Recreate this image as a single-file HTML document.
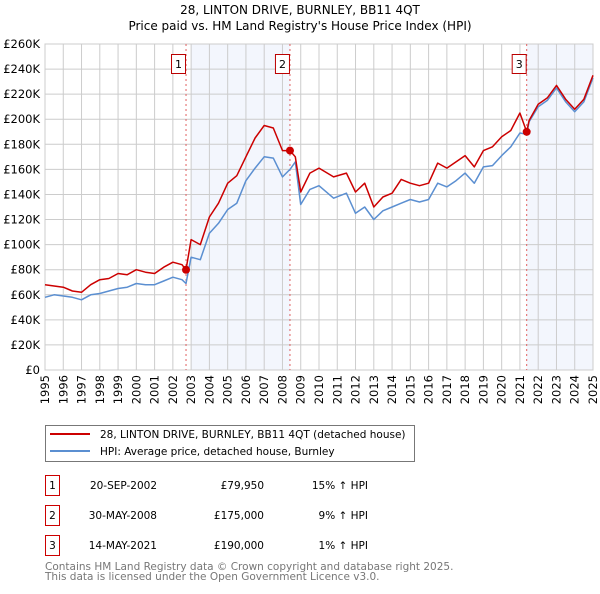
<!DOCTYPE html>
<html><head><meta charset="utf-8"><style>
body{margin:0;background:#fff;width:600px;height:590px;overflow:hidden;font-family:"DejaVu Sans","Liberation Sans",sans-serif}
svg text{font-family:"DejaVu Sans","Liberation Sans",sans-serif}
</style></head><body>
<svg width="600" height="590">
<text x="300" y="14" text-anchor="middle" font-size="12" fill="#000">28, LINTON DRIVE, BURNLEY, BB11 4QT</text>
<text x="300" y="30" text-anchor="middle" font-size="12" fill="#000">Price paid vs. HM Land Registry's House Price Index (HPI)</text>
<g id="plot"></g>
<g>
<rect x="45.5" y="425.5" width="369" height="36" fill="#fff" stroke="#777"/>
<line x1="50" y1="434" x2="90" y2="434" stroke="#cc0000" stroke-width="2"/>
<text x="100" y="438" font-size="10.5">28, LINTON DRIVE, BURNLEY, BB11 4QT (detached house)</text>
<line x1="50" y1="451" x2="90" y2="451" stroke="#5b8fd1" stroke-width="2"/>
<text x="100" y="455" font-size="10.5">HPI: Average price, detached house, Burnley</text>
</g>
<g font-size="10.5">
<rect x="45.5" y="475.5" width="14" height="20" fill="#fff" stroke="#c00"/><text x="52.5" y="489" text-anchor="middle">1</text>
<text x="157" y="489" text-anchor="end">20-SEP-2002</text><text x="264" y="489" text-anchor="end">£79,950</text><text x="368" y="489" text-anchor="end">15% ↑ HPI</text>
<rect x="45.5" y="505.5" width="14" height="20" fill="#fff" stroke="#c00"/><text x="52.5" y="519" text-anchor="middle">2</text>
<text x="157" y="519" text-anchor="end">30-MAY-2008</text><text x="264" y="519" text-anchor="end">£175,000</text><text x="368" y="519" text-anchor="end">9% ↑ HPI</text>
<rect x="45.5" y="535.5" width="14" height="20" fill="#fff" stroke="#c00"/><text x="52.5" y="549" text-anchor="middle">3</text>
<text x="157" y="549" text-anchor="end">14-MAY-2021</text><text x="264" y="549" text-anchor="end">£190,000</text><text x="368" y="549" text-anchor="end">1% ↑ HPI</text>
</g>
<text x="45" y="570" font-size="10.5" fill="#777">Contains HM Land Registry data © Crown copyright and database right 2025.</text>
<text x="45" y="580" font-size="10.5" fill="#777">This data is licensed under the Open Government Licence v3.0.</text>
</svg>
<script>
const years=[1995,1995.5,1996,1996.5,1997,1997.5,1998,1998.5,1999,1999.5,2000,2000.5,2001,2001.5,2002,2002.5,2002.72,2003,2003.5,2004,2004.5,2005,2005.5,2006,2006.5,2007,2007.5,2008,2008.41,2008.7,2009,2009.5,2010,2010.8,2011.5,2012,2012.5,2013,2013.5,2014,2014.5,2015,2015.5,2016,2016.5,2017,2017.5,2018,2018.5,2019,2019.5,2020,2020.5,2021,2021.37,2021.5,2022,2022.5,2023,2023.5,2024,2024.5,2025];
const hpi=[58,60,59,58,56,60,61,63,65,66,69,68,68,71,74,72,69,90,88,109,117,128,133,151,161,170,169,154,160,166,132,144,147,137,141,125,130,120,127,130,133,136,134,136,149,146,151,157,149,162,163,171,178,189,188,198,210,215,225,214,206,214,233];
const price=[68,67,66,63,62,68,72,73,77,76,80,78,77,82,86,84,79.95,104,100,122,133,149,155,170,185,195,193,175,175,170,142,157,161,154,157,142,149,130,138,141,152,149,147,149,165,161,166,171,162,175,178,186,191,205,190,199,212,217,227,216,208,216,235];
const yTicks=[0,20,40,60,80,100,120,140,160,180,200,220,240,260];
const xTicks=[1995,1996,1997,1998,1999,2000,2001,2002,2003,2004,2005,2006,2007,2008,2009,2010,2011,2012,2013,2014,2015,2016,2017,2018,2019,2020,2021,2022,2023,2024,2025];
const sales=[{n:"1",t:2002.72,v:79.95},{n:"2",t:2008.41,v:175},{n:"3",t:2021.37,v:190}];
const shades=[[2003.0,2008.41],[2021.37,2025]];
const X0=45,X1=593,Y0=370,Y1=44;
const xs=t=>X0+(t-1995)/30*(X1-X0);
const ys=v=>Y0-v/260*(Y0-Y1);
const NS="http://www.w3.org/2000/svg";
const g=document.getElementById('plot');
function mk(tag,a,p){const e=document.createElementNS(NS,tag);for(const k in a)e.setAttribute(k,a[k]);(p||g).appendChild(e);return e;}
shades.forEach(s=>{const r=mk('rect',{x:xs(s[0]),y:Y1,width:xs(s[1])-xs(s[0]),height:Y0-Y1,fill:'#f3f6fd'});

});
yTicks.forEach(v=>{const l=mk('line',{x1:X0,x2:X1,y1:ys(v),y2:ys(v),stroke:'#ccc'});


const t=mk('text',{x:X0-5,y:ys(v)+4,'text-anchor':'end','font-size':'11.5'});t.textContent=v===0?'£0':'£'+v+'K';

});
xTicks.forEach(y=>{const l=mk('line',{x1:xs(y),x2:xs(y),y1:Y1,y2:Y0,stroke:'#ccc'});


const t=mk('text',{x:0,y:0,'text-anchor':'end','font-size':'11.5',transform:`translate(${xs(y)+4},${Y0+5}) rotate(-90)`});t.textContent=y;

});
const ax=mk('rect',{x:X0,y:Y1,width:X1-X0,height:Y0-Y1,fill:'none',stroke:'#ccc'});


sales.forEach(s=>{const l=mk('line',{x1:xs(s.t),x2:xs(s.t),y1:Y1,y2:Y0,stroke:'#e06060','stroke-dasharray':'2,3'});

});
function path(arr,col,name){const d=arr.map((v,i)=>(i?'L':'M')+xs(years[i]).toFixed(1)+','+ys(v).toFixed(1)).join('');
const p=mk('path',{d:d,fill:'none',stroke:col,'stroke-width':1.5,'stroke-linejoin':'round'});

}
path(hpi,'#5b8fd1','hpi-line');
path(price,'#cc0000','price-line');
sales.forEach(s=>{const c=mk('circle',{cx:xs(s.t),cy:ys(s.v),r:4,fill:'#cc0000'});


const r=mk('rect',{x:xs(s.t)-14.5,y:54.5,width:14,height:19,fill:'#fff',stroke:'#b00'});


const t=mk('text',{x:xs(s.t)-7.5,y:68,'text-anchor':'middle','font-size':'11'});t.textContent=s.n;

});
</script>
</body></html>
